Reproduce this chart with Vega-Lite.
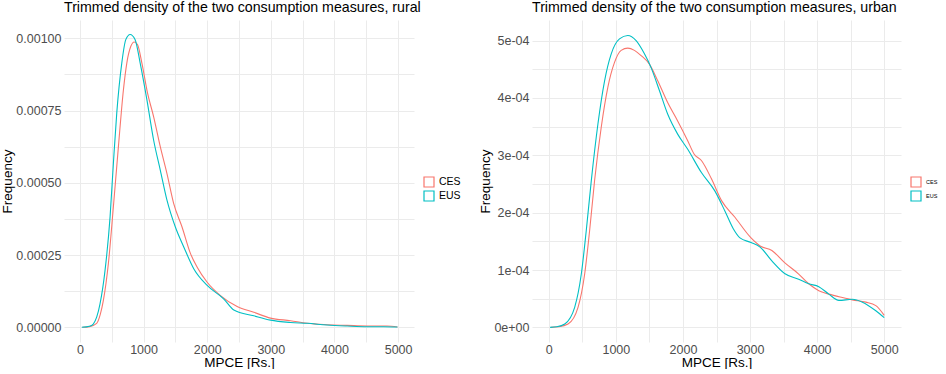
{
  "$schema": "https://vega.github.io/schema/vega-lite/v6.json",
  "padding": {"left": 0, "top": 0, "right": 0, "bottom": 0},
  "background": "white",
  "bounds": "flush",
  "spacing": 118,
  "datasets": {
    "rural": [
      {"x": 40, "y": 0.0000002, "measure": "CES"},
      {"x": 150, "y": 0.0000025, "measure": "CES"},
      {"x": 263, "y": 0.0000139, "measure": "CES"},
      {"x": 320, "y": 0.000045, "measure": "CES"},
      {"x": 368, "y": 0.0000926, "measure": "CES"},
      {"x": 447, "y": 0.00022, "measure": "CES"},
      {"x": 526, "y": 0.000417, "measure": "CES"},
      {"x": 605, "y": 0.000625, "measure": "CES"},
      {"x": 684, "y": 0.000822, "measure": "CES"},
      {"x": 737, "y": 0.000914, "measure": "CES"},
      {"x": 800, "y": 0.000972, "measure": "CES"},
      {"x": 853, "y": 0.000987, "measure": "CES"},
      {"x": 905, "y": 0.000978, "measure": "CES"},
      {"x": 974, "y": 0.000914, "measure": "CES"},
      {"x": 1063, "y": 0.00081, "measure": "CES"},
      {"x": 1158, "y": 0.000729, "measure": "CES"},
      {"x": 1263, "y": 0.000625, "measure": "CES"},
      {"x": 1368, "y": 0.000532, "measure": "CES"},
      {"x": 1474, "y": 0.000428, "measure": "CES"},
      {"x": 1605, "y": 0.000347, "measure": "CES"},
      {"x": 1738, "y": 0.000255, "measure": "CES"},
      {"x": 1843, "y": 0.000208, "measure": "CES"},
      {"x": 2000, "y": 0.000156, "measure": "CES"},
      {"x": 2209, "y": 0.00011, "measure": "CES"},
      {"x": 2471, "y": 0.000072, "measure": "CES"},
      {"x": 2733, "y": 0.000052, "measure": "CES"},
      {"x": 2995, "y": 0.000032, "measure": "CES"},
      {"x": 3309, "y": 0.000023, "measure": "CES"},
      {"x": 3571, "y": 0.000014, "measure": "CES"},
      {"x": 3885, "y": 0.0000093, "measure": "CES"},
      {"x": 4199, "y": 0.0000069, "measure": "CES"},
      {"x": 4513, "y": 0.0000046, "measure": "CES"},
      {"x": 4827, "y": 0.0000046, "measure": "CES"},
      {"x": 4990, "y": 0.0000012, "measure": "CES"},
      {"x": 30, "y": 0.0000003, "measure": "EUS"},
      {"x": 150, "y": 0.000004, "measure": "EUS"},
      {"x": 210, "y": 0.0000116, "measure": "EUS"},
      {"x": 316, "y": 0.000081, "measure": "EUS"},
      {"x": 395, "y": 0.000197, "measure": "EUS"},
      {"x": 474, "y": 0.000382, "measure": "EUS"},
      {"x": 526, "y": 0.000567, "measure": "EUS"},
      {"x": 579, "y": 0.000741, "measure": "EUS"},
      {"x": 658, "y": 0.000914, "measure": "EUS"},
      {"x": 721, "y": 0.000995, "measure": "EUS"},
      {"x": 789, "y": 0.001013, "measure": "EUS"},
      {"x": 868, "y": 0.000995, "measure": "EUS"},
      {"x": 947, "y": 0.000914, "measure": "EUS"},
      {"x": 1053, "y": 0.000787, "measure": "EUS"},
      {"x": 1158, "y": 0.000648, "measure": "EUS"},
      {"x": 1263, "y": 0.000544, "measure": "EUS"},
      {"x": 1368, "y": 0.00044, "measure": "EUS"},
      {"x": 1500, "y": 0.000347, "measure": "EUS"},
      {"x": 1632, "y": 0.000278, "measure": "EUS"},
      {"x": 1791, "y": 0.000202, "measure": "EUS"},
      {"x": 2000, "y": 0.000145, "measure": "EUS"},
      {"x": 2262, "y": 0.000098, "measure": "EUS"},
      {"x": 2419, "y": 0.00006, "measure": "EUS"},
      {"x": 2733, "y": 0.00004, "measure": "EUS"},
      {"x": 2995, "y": 0.000025, "measure": "EUS"},
      {"x": 3309, "y": 0.000017, "measure": "EUS"},
      {"x": 3571, "y": 0.000014, "measure": "EUS"},
      {"x": 3885, "y": 0.000008, "measure": "EUS"},
      {"x": 4199, "y": 0.0000046, "measure": "EUS"},
      {"x": 4513, "y": 0.0000023, "measure": "EUS"},
      {"x": 4775, "y": 0.0000023, "measure": "EUS"},
      {"x": 4990, "y": 0.0000012, "measure": "EUS"}
    ],
    "urban": [
      {"x": 30, "y": 0.0, "measure": "CES"},
      {"x": 150, "y": 0.000001, "measure": "CES"},
      {"x": 287, "y": 0.0000058, "measure": "CES"},
      {"x": 436, "y": 0.000035, "measure": "CES"},
      {"x": 535, "y": 0.000093, "measure": "CES"},
      {"x": 609, "y": 0.000169, "measure": "CES"},
      {"x": 683, "y": 0.000256, "measure": "CES"},
      {"x": 782, "y": 0.000349, "measure": "CES"},
      {"x": 881, "y": 0.000419, "measure": "CES"},
      {"x": 980, "y": 0.000462, "measure": "CES"},
      {"x": 1079, "y": 0.000483, "measure": "CES"},
      {"x": 1178, "y": 0.000487, "measure": "CES"},
      {"x": 1277, "y": 0.000483, "measure": "CES"},
      {"x": 1376, "y": 0.000474, "measure": "CES"},
      {"x": 1500, "y": 0.000459, "measure": "CES"},
      {"x": 1624, "y": 0.00043, "measure": "CES"},
      {"x": 1772, "y": 0.000392, "measure": "CES"},
      {"x": 1921, "y": 0.00036, "measure": "CES"},
      {"x": 2069, "y": 0.000326, "measure": "CES"},
      {"x": 2168, "y": 0.000302, "measure": "CES"},
      {"x": 2275, "y": 0.000291, "measure": "CES"},
      {"x": 2425, "y": 0.000259, "measure": "CES"},
      {"x": 2575, "y": 0.000221, "measure": "CES"},
      {"x": 2775, "y": 0.000192, "measure": "CES"},
      {"x": 3015, "y": 0.000156, "measure": "CES"},
      {"x": 3150, "y": 0.000142, "measure": "CES"},
      {"x": 3325, "y": 0.000134, "measure": "CES"},
      {"x": 3515, "y": 0.000113, "measure": "CES"},
      {"x": 3725, "y": 0.000093, "measure": "CES"},
      {"x": 3875, "y": 0.000076, "measure": "CES"},
      {"x": 4025, "y": 0.000064, "measure": "CES"},
      {"x": 4175, "y": 0.000058, "measure": "CES"},
      {"x": 4375, "y": 0.000052, "measure": "CES"},
      {"x": 4525, "y": 0.000048, "measure": "CES"},
      {"x": 4725, "y": 0.000044, "measure": "CES"},
      {"x": 4875, "y": 0.000038, "measure": "CES"},
      {"x": 5000, "y": 0.000021, "measure": "CES"},
      {"x": 20, "y": 0.0, "measure": "EUS"},
      {"x": 120, "y": 0.000001, "measure": "EUS"},
      {"x": 238, "y": 0.0000058, "measure": "EUS"},
      {"x": 386, "y": 0.000035, "measure": "EUS"},
      {"x": 485, "y": 0.000093, "measure": "EUS"},
      {"x": 559, "y": 0.000169, "measure": "EUS"},
      {"x": 634, "y": 0.000256, "measure": "EUS"},
      {"x": 733, "y": 0.000355, "measure": "EUS"},
      {"x": 832, "y": 0.00043, "measure": "EUS"},
      {"x": 931, "y": 0.000477, "measure": "EUS"},
      {"x": 1054, "y": 0.000503, "measure": "EUS"},
      {"x": 1178, "y": 0.000509, "measure": "EUS"},
      {"x": 1302, "y": 0.0005, "measure": "EUS"},
      {"x": 1426, "y": 0.000477, "measure": "EUS"},
      {"x": 1525, "y": 0.000453, "measure": "EUS"},
      {"x": 1649, "y": 0.000413, "measure": "EUS"},
      {"x": 1772, "y": 0.000372, "measure": "EUS"},
      {"x": 1921, "y": 0.000337, "measure": "EUS"},
      {"x": 2069, "y": 0.000311, "measure": "EUS"},
      {"x": 2275, "y": 0.00027, "measure": "EUS"},
      {"x": 2475, "y": 0.000238, "measure": "EUS"},
      {"x": 2625, "y": 0.000203, "measure": "EUS"},
      {"x": 2750, "y": 0.000172, "measure": "EUS"},
      {"x": 2850, "y": 0.000156, "measure": "EUS"},
      {"x": 3015, "y": 0.000148, "measure": "EUS"},
      {"x": 3150, "y": 0.00014, "measure": "EUS"},
      {"x": 3325, "y": 0.000116, "measure": "EUS"},
      {"x": 3515, "y": 0.000094, "measure": "EUS"},
      {"x": 3725, "y": 0.000084, "measure": "EUS"},
      {"x": 3875, "y": 0.000076, "measure": "EUS"},
      {"x": 4025, "y": 0.000071, "measure": "EUS"},
      {"x": 4175, "y": 0.000058, "measure": "EUS"},
      {"x": 4325, "y": 0.000047, "measure": "EUS"},
      {"x": 4525, "y": 0.000049, "measure": "EUS"},
      {"x": 4675, "y": 0.000044, "measure": "EUS"},
      {"x": 4875, "y": 0.000029, "measure": "EUS"},
      {"x": 5000, "y": 0.000017, "measure": "EUS"}
    ]
  },
  "resolve": {"legend": {"color": "independent"}, "scale": {"color": "independent"}},
  "hconcat": [
    {
      "width": 350,
      "height": 322,
      "title": {"text": "Trimmed density of the two consumption measures, rural"},
      "data": {"name": "rural"},
      "mark": {"type": "line", "interpolate": "monotone", "strokeWidth": 1.1},
      "encoding": {
        "x": {
          "field": "x", "type": "quantitative", "title": "MPCE [Rs.]",
          "scale": {"domain": [-250, 5250], "nice": false, "zero": false},
          "axis": {"values": [0, 500, 1000, 1500, 2000, 2500, 3000, 3500, 4000, 4500, 5000],
                   "labelExpr": "datum.value % 1000 == 0 ? format(datum.value, 'd') : ''",
                   "labelPadding": 1, "titlePadding": 0}
        },
        "y": {
          "field": "y", "type": "quantitative", "title": "Frequency",
          "scale": {"domain": [-0.0000506, 0.001063], "nice": false, "zero": false},
          "axis": {"values": [0, 0.000125, 0.00025, 0.000375, 0.0005, 0.000625, 0.00075, 0.000875, 0.001],
                   "labelExpr": "abs(datum.value * 4000 - round(datum.value * 4000)) < 0.000001 ? format(datum.value, '.5f') : ''",
                   "titlePadding": 1}
        },
        "color": {
          "field": "measure", "type": "nominal",
          "scale": {"domain": ["CES", "EUS"], "range": ["#F8766D", "#00BFC4"]},
          "legend": {"title": null, "orient": "none", "legendX": 359, "legendY": 156, "labelFontSize": 10.5}
        }
      }
    },
    {
      "width": 369,
      "height": 322,
      "title": {"text": "Trimmed density of the two consumption measures, urban"},
      "data": {"name": "urban"},
      "mark": {"type": "line", "interpolate": "monotone", "strokeWidth": 1.1},
      "encoding": {
        "x": {
          "field": "x", "type": "quantitative", "title": "MPCE [Rs.]",
          "scale": {"domain": [-250, 5250], "nice": false, "zero": false},
          "axis": {"values": [0, 500, 1000, 1500, 2000, 2500, 3000, 3500, 4000, 4500, 5000],
                   "labelExpr": "datum.value % 1000 == 0 ? format(datum.value, 'd') : ''",
                   "labelPadding": 1, "titlePadding": 0}
        },
        "y": {
          "field": "y", "type": "quantitative", "title": "Frequency",
          "scale": {"domain": [-0.0000255, 0.000536], "nice": false, "zero": false},
          "axis": {"values": [0, 0.00005, 0.0001, 0.00015, 0.0002, 0.00025, 0.0003, 0.00035, 0.0004, 0.00045, 0.0005],
                   "labelExpr": "abs(datum.value * 10000 - round(datum.value * 10000)) < 0.000001 ? replace(replace(format(datum.value, '.0e'), '-', '-0'), '+', '+0') : ''",
                   "titlePadding": 1}
        },
        "color": {
          "field": "measure", "type": "nominal",
          "scale": {"domain": ["CES", "EUS"], "range": ["#F8766D", "#00BFC4"]},
          "legend": {"title": null, "orient": "none", "legendX": 378, "legendY": 156, "labelFontSize": 5.5}
        }
      }
    }
  ],
  "config": {
    "font": "Liberation Sans",
    "view": {"stroke": null},
    "title": {"fontSize": 14.2, "fontWeight": "normal", "anchor": "start", "frame": "group", "color": "#000000", "offset": 5},
    "axis": {
      "grid": true,
      "gridColor": "#EBEBEB",
      "gridWidth": 1,
      "ticks": false,
      "domain": false,
      "labelColor": "#4D4D4D",
      "labelFontSize": 12.5,
      "labelPadding": 3,
      "labelOverlap": false,
      "titleFontSize": 13.5,
      "titleFontWeight": "normal",
      "titleColor": "#000000",
      "titlePadding": 3
    },
    "legend": {
      "symbolType": "square",
      "symbolSize": 100,
      "symbolStrokeWidth": 1.2,
      "symbolFillColor": "transparent",
      "labelColor": "#000000",
      "rowPadding": -8,
      "labelOffset": 4
    }
  }
}
